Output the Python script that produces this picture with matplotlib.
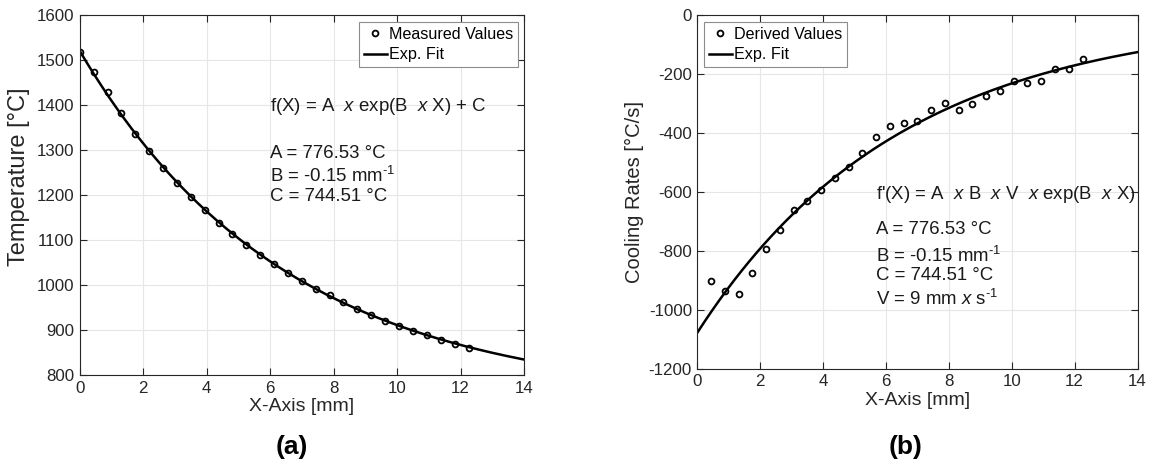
import numpy as np
import matplotlib.pyplot as plt

plt.rcParams['font.family'] = ['Liberation Sans', 'DejaVu Sans']
plt.rcParams['mathtext.fontset'] = 'custom'
plt.rcParams['mathtext.rm'] = 'Liberation Sans'
plt.rcParams['mathtext.it'] = 'Liberation Sans:italic'
plt.rcParams['axes.unicode_minus'] = False

# measured positions and temperatures
x_mm = [0.0, 0.44, 0.88, 1.31, 1.75, 2.19, 2.63, 3.06, 3.5, 3.94, 4.38, 4.81, 5.25, 5.69,
        6.13, 6.56, 7.0, 7.44, 7.88, 8.31, 8.75, 9.19, 9.63, 10.06, 10.5, 10.94, 11.38, 11.81, 12.25]
temp_measured = [1518, 1475, 1430, 1384, 1337, 1298, 1260, 1227, 1195, 1166, 1139, 1113, 1089, 1067,
                 1046, 1027, 1009, 992, 977, 962, 947, 934, 921, 909, 899, 888, 878, 869, 860]

# derived cooling rates (one value per interval, starting at the second position)
x_derived = x_mm[1:]
rate_derived = [-900, -935, -945, -875, -792, -729, -661, -629, -591, -553, -513, -467, -412, -377,
                -366, -357, -320, -299, -322, -300, -272, -258, -221, -229, -221, -181, -182, -148]

# fit parameters
A = 776.53
B = -0.154
C = 744.51
V = 9

x_fit = np.linspace(0, 14, 300)
temp_fit = A * np.exp(B * x_fit) + C
rate_fit = A * B * V * np.exp(B * x_fit)

fig = plt.figure(figsize=(11.49, 4.67), dpi=100)
ax1 = fig.add_axes([0.0694, 0.197, 0.3867, 0.770])
ax2 = fig.add_axes([0.607, 0.210, 0.383, 0.757])

dark = '#262626'
for ax in (ax1, ax2):
    ax.grid(True, color='#e6e6e6', linewidth=0.8)
    ax.set_axisbelow(True)
    ax.tick_params(direction='in', top=True, right=True, length=5, width=0.8,
                   labelsize=12.2, colors=dark, pad=4)
    for s in ax.spines.values():
        s.set_color(dark)
        s.set_linewidth(0.8)
    ax.set_xlim(0, 14)
    ax.set_xticks(range(0, 15, 2))
    ax.set_xlabel('X-Axis [mm]', fontsize=14, color=dark, labelpad=2)

mk = dict(marker='o', linestyle='none', markersize=4.2, markerfacecolor='none',
          markeredgecolor='black', markeredgewidth=1.3)

ax1.plot(x_mm, temp_measured, label='Measured Values', **mk)
ax1.plot(x_fit, temp_fit, color='black', linewidth=1.8, label='Exp. Fit')
ax1.set_ylim(800, 1600)
ax1.set_yticks(range(800, 1601, 100))
ax1.set_ylabel('Temperature [°C]', fontsize=17, color=dark)
ax1.yaxis.set_label_coords(-0.113, 0.55)

ax2.plot(x_derived, rate_derived, label='Derived Values', **mk)
ax2.plot(x_fit, rate_fit, color='black', linewidth=1.8, label='Exp. Fit')
ax2.set_ylim(-1200, 0)
ax2.set_yticks(range(-1200, 1, 200))
ax2.set_ylabel('Cooling Rates [°C/s]', fontsize=14.5, color=dark, labelpad=3)

leg_kw = dict(fontsize=11.6, fancybox=False, edgecolor='#8c8c8c', framealpha=1,
              handlelength=1.45, handletextpad=0.1, borderpad=0.3, labelspacing=0.35,
              borderaxespad=0.4)
leg1 = ax1.legend(loc='upper right', **leg_kw)
leg2 = ax2.legend(loc='upper left', **leg_kw)
for leg in (leg1, leg2):
    leg.get_frame().set_linewidth(0.8)

tk = dict(fontsize=13.4, color='#1a1a1a', va='center', ha='left')
xi = r'$\it{x}$'
ax1.text(6.0, 1397, 'f(X) = A  ' + xi + ' exp(B  ' + xi + ' X) + C', **tk)
ax1.text(6.0, 1293, 'A = 776.53 °C', **tk)
ax1.text(6.0, 1243, r'B = -0.15 mm$^{\text{-1}}$', **tk)
ax1.text(6.0, 1198, 'C = 744.51 °C', **tk)

ax2.text(5.68, -609, "f'(X) = A  " + xi + ' B  ' + xi + ' V  ' + xi + ' exp(B  ' + xi + ' X)', **tk)
ax2.text(5.68, -728, 'A = 776.53 °C', **tk)
ax2.text(5.68, -816, r'B = -0.15 mm$^{\text{-1}}$', **tk)
ax2.text(5.68, -884, 'C = 744.51 °C', **tk)
ax2.text(5.68, -961, r'V = 9 mm ' + xi + r' s$^{\text{-1}}$', **tk)

fig.text(292 / 1149, 1 - 447 / 467, '(a)', fontsize=19, fontweight='bold', ha='center', va='center')
fig.text(906 / 1149, 1 - 447 / 467, '(b)', fontsize=19, fontweight='bold', ha='center', va='center')

fig.savefig('out.png', dpi=100)
